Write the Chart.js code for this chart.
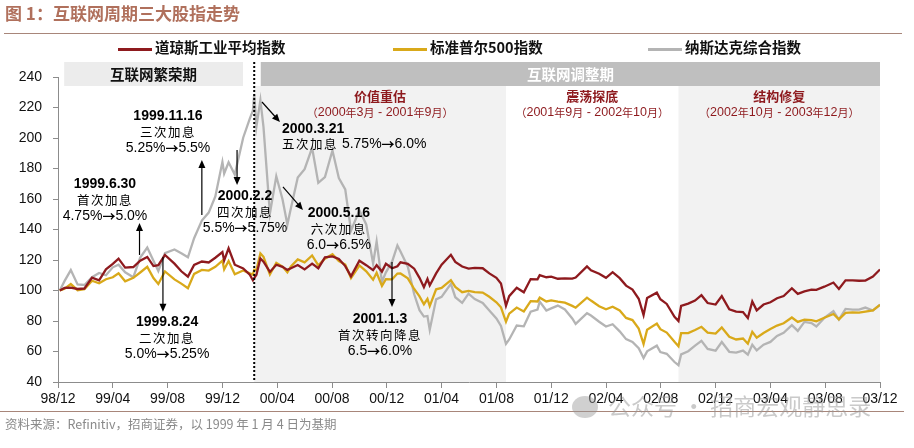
<!DOCTYPE html>
<html>
<head>
<meta charset="UTF-8" />
<title>图 1：互联网周期三大股指走势</title>
<script src="https://cdn.jsdelivr.net/npm/chart.js@4.4.1/dist/chart.umd.min.js"></script>
<style>
  body { margin: 0; background: #fff; }
  #wrap { position: relative; width: 914px; height: 448px; overflow: hidden; font-family: "Noto Sans CJK SC", sans-serif; }
  #chart { position: absolute; left: 0; top: 0; }
  .title { position: absolute; left: 5px; top: 0; line-height: 26px; font-size: 17px; font-weight: bold; color: #b0705c; }
  .rule { position: absolute; left: 4px; width: 898px; height: 1px; background: #a8867a; }
  .legend { position: absolute; top: 37px; height: 20px; line-height: 20px; font-size: 14.5px; font-weight: bold; color: #111; white-space: nowrap; }
  .legend i { display: inline-block; width: 34px; height: 3px; margin-right: 3px; vertical-align: middle; }
  .source { position: absolute; left: 5px; top: 415px; font-size: 12.5px; line-height: 18px; color: #8a8a8a; white-space: nowrap; }
  .mark { position: absolute; left: 572px; top: 390px; font-size: 23px; line-height: 30px; color: rgba(150,150,150,0.5); white-space: nowrap; }
  .mark b { display: inline-block; width: 26px; height: 22px; border-radius: 50%; background: rgba(150,150,150,0.45); vertical-align: -3px; margin-right: 10px; }
</style>
</head>
<body>
<div id="wrap">
  <canvas id="chart" width="914" height="448"></canvas>
  <div class="title">图 1：互联网周期三大股指走势</div>
  <div class="rule" style="top:33px"></div>
  <div class="legend" style="left:118px"><i style="background:#8e1a1e"></i>道琼斯工业平均指数</div>
  <div class="legend" style="left:393px"><i style="background:#d9a91a"></i>标准普尔500指数</div>
  <div class="legend" style="left:648px"><i style="background:#b4b4b4"></i>纳斯达克综合指数</div>
  <div class="rule" style="top:411px; left:0; width:904px"></div>
  <div class="source">资料来源：Refinitiv，招商证券，以 1999 年 1 月 4 日为基期</div>
  <div class="mark"><b></b>公众号 · 招商宏观静思录</div>
</div>

<script>
    // index values, 1999-01-04 = 100
    const dates = [
        '1999-01-04','1999-01-15','1999-01-29','1999-02-12','1999-02-26','1999-03-15','1999-03-31','1999-04-15','1999-04-30','1999-05-13',
        '1999-05-28','1999-06-15','1999-06-30','1999-07-16','1999-07-30','1999-08-10','1999-08-25','1999-09-15','1999-09-30','1999-10-15',
        '1999-10-29','1999-11-15','1999-11-30','1999-12-15','1999-12-31','2000-01-04','2000-01-14','2000-01-28','2000-02-15','2000-02-29',
        '2000-03-07','2000-03-10','2000-03-15','2000-03-24','2000-03-31','2000-04-14','2000-04-28','2000-05-12','2000-05-23','2000-05-31',
        '2000-06-15','2000-06-30','2000-07-17','2000-07-31','2000-08-15','2000-09-01','2000-09-15','2000-09-29','2000-10-12','2000-10-31',
        '2000-11-15','2000-11-30','2000-12-08','2000-12-20','2000-12-29','2001-01-12','2001-01-24','2001-01-31','2001-02-15','2001-02-28',
        '2001-03-12','2001-03-22','2001-03-30','2001-04-04','2001-04-18','2001-04-30','2001-05-21','2001-05-31','2001-06-15','2001-06-29',
        '2001-07-13','2001-07-31','2001-08-15','2001-08-31','2001-09-10','2001-09-21','2001-09-28','2001-10-15','2001-10-31','2001-11-15',
        '2001-11-30','2001-12-05','2001-12-20','2001-12-31','2002-01-15','2002-01-31','2002-02-15','2002-02-22','2002-03-19','2002-03-28',
        '2002-04-15','2002-04-30','2002-05-15','2002-05-31','2002-06-14','2002-06-28','2002-07-12','2002-07-23','2002-07-31','2002-08-22',
        '2002-08-30','2002-09-13','2002-09-30','2002-10-09','2002-10-15','2002-10-31','2002-11-15','2002-11-29','2002-12-13','2002-12-31',
        '2003-01-14','2003-01-31','2003-02-14','2003-02-28','2003-03-11','2003-03-21','2003-03-31','2003-04-15','2003-04-30','2003-05-15',
        '2003-05-30','2003-06-17','2003-06-30','2003-07-15','2003-07-31','2003-08-11','2003-08-29','2003-09-18','2003-09-30','2003-10-15',
        '2003-10-31','2003-11-14','2003-11-28','2003-12-15','2003-12-31'
    ];
    const dowJones = [
        100, 101.7, 101.9, 101.0, 101.3, 108.4, 106.6, 113.9, 117.5, 120.9,
        115.0, 115.4, 119.5, 122.0, 116.0, 116.6, 123.3, 117.6, 112.6, 109.1,
        116.8, 119.0, 118.4, 121.5, 125.2, 119.7, 127.6, 116.9, 114.5, 110.3,
        106.7, 108.1, 110.3, 121.0, 118.9, 112.2, 116.9, 115.5, 113.5, 114.6,
        116.7, 113.8, 117.6, 114.6, 121.7, 122.4, 120.7, 116.0, 109.3, 119.5,
        116.6, 113.4, 116.6, 112.4, 117.5, 114.6, 115.9, 118.5, 117.5, 114.3,
        108.3, 102.2, 107.6, 103.3, 111.2, 116.9, 123.4, 118.8, 115.7, 114.4,
        114.8, 114.6, 111.2, 108.3, 104.6, 90.0, 96.3, 101.8, 98.8, 107.5,
        107.3, 110.1, 108.7, 109.1, 107.7, 108.0, 107.8, 108.5, 115.8, 113.3,
        111.0, 108.3, 112.0, 108.1, 103.2, 100.6, 94.6, 83.9, 95.1, 98.6,
        94.3, 91.2, 82.7, 80.0, 89.9, 91.4, 93.4, 96.9, 91.8, 90.8,
        96.3, 87.7, 86.1, 85.9, 81.9, 92.8, 87.0, 90.8, 92.3, 94.9,
        96.4, 101.5, 97.8, 99.4, 100.5, 100.4, 102.5, 105.2, 101.0, 106.7,
        106.7, 106.4, 106.5, 109.1, 113.8
    ];
    const sp500 = [
        100, 101.2, 104.2, 100.2, 100.8, 106.4, 104.7, 107.4, 108.7, 111.3,
        106.0, 108.3, 111.8, 115.5, 108.2, 104.3, 112.5, 107.3, 104.5, 101.5,
        110.9, 113.5, 113.1, 115.5, 119.6, 113.9, 119.3, 110.7, 113.1, 111.2,
        110.4, 113.6, 113.4, 124.3, 122.1, 110.5, 118.2, 115.7, 111.9, 115.7,
        120.4, 118.5, 123.0, 116.5, 120.8, 123.8, 119.3, 117.0, 108.2, 116.4,
        112.6, 107.1, 111.6, 103.0, 107.5, 107.3, 111.1, 111.2, 108.0, 101.0,
        96.1, 91.0, 94.5, 89.8, 100.8, 101.7, 106.8, 102.3, 98.9, 99.7,
        98.9, 98.6, 95.9, 92.3, 89.0, 79.5, 84.8, 88.8, 86.3, 93.0,
        92.8, 95.3, 92.8, 93.5, 92.7, 92.0, 89.9, 88.7, 95.3, 93.4,
        89.7, 87.7, 89.4, 86.9, 82.0, 80.6, 75.0, 64.9, 74.3, 78.3,
        74.6, 72.4, 66.4, 63.5, 72.0, 72.1, 74.1, 76.2, 72.4, 71.7,
        75.8, 69.7, 67.9, 68.5, 65.1, 72.9, 69.1, 72.1, 74.7, 77.0,
        78.5, 82.3, 79.4, 80.9, 80.6, 79.8, 82.1, 84.6, 81.1, 85.3,
        85.6, 85.5, 86.2, 87.0, 90.6
    ];
    const nasdaq = [
        100, 106.3, 113.4, 104.0, 103.6, 108.7, 111.5, 110.0, 115.2, 116.9,
        111.9, 108.7, 121.6, 128.2, 119.5, 112.8, 124.5, 126.9, 124.4, 121.8,
        134.3, 145.9, 151.1, 161.7, 184.3, 176.7, 184.1, 176.0, 200.2, 212.7,
        217.9, 228.6, 207.6, 224.8, 207.1, 150.4, 174.9, 159.8, 143.3, 154.0,
        174.1, 179.6, 193.6, 170.6, 174.4, 191.8, 173.7, 166.3, 139.2, 152.6,
        143.3, 117.7, 132.1, 105.7, 111.9, 118.9, 129.5, 125.6, 115.6, 97.5,
        87.1, 82.9, 83.3, 74.2, 94.2, 95.8, 104.4, 95.6, 91.9, 97.9,
        94.4, 91.8, 86.9, 81.7, 76.8, 65.0, 67.9, 77.0, 76.5, 86.1,
        87.5, 92.7, 86.9, 88.3, 90.1, 87.6, 81.7, 78.1, 85.1, 83.6,
        79.5, 76.4, 77.9, 73.2, 68.1, 66.3, 62.2, 55.7, 60.1, 63.8,
        59.6, 58.5, 53.1, 51.0, 58.1, 60.2, 63.9, 67.0, 61.7, 60.5,
        66.2, 59.8, 59.3, 60.6, 57.9, 64.4, 60.7, 64.5, 66.3, 70.2,
        72.3, 77.3, 73.5, 79.4, 78.6, 76.4, 82.0, 86.5, 80.9, 87.9,
        87.5, 87.4, 88.8, 86.9, 90.7
    ];
    const tickLabels = ['98/12','99/04','99/08','99/12','00/04','00/08','00/12','01/04','01/08','01/12','02/04','02/08','02/12','03/04','03/08','03/12'];

    // months after the end of 1998
    function toMonth(d) {
        const [y, m, day] = d.split('-').map(Number);
        const dim = new Date(y, m, 0).getDate();
        return (y - 1999) * 12 + (m - 1) + day / dim;
    }
    const series = values => values.map((v, i) => ({ x: toMonth(dates[i]), y: v }));

    const turn = toMonth('2000-03-10');
    const phases = [
        { name: '互联网繁荣期', start: 0.45, end: 13.5, fill: '#ececec', color: '#111' },
        { name: '互联网调整期', start: 14.8, end: 60, fill: '#bfbfbf', color: '#fff' }
    ];
    const stages = [
        { name: '价值重估', range: '（2000年3月 - 2001年9月）', start: turn, end: toMonth('2001-09-21'), shade: true },
        { name: '震荡探底', range: '（2001年9月 - 2002年10月）', start: toMonth('2001-09-21'), end: toMonth('2002-10-09'), shade: false },
        { name: '结构修复', range: '（2002年10月 - 2003年12月）', start: toMonth('2002-10-09'), end: 60, shade: true }
    ];
    const notes = [
        { x: 3.43, y: 169.8, lines: ['1999.6.30', '首次加息', '4.75%→5.0%'], arrow: [5.95, 123.3, 5.95, 144.3] },
        { x: 7.96, y: 79.3, lines: ['1999.8.24', '二次加息', '5.0%→5.25%'], arrow: [7.66, 122, 7.66, 86] },
        { x: 8.03, y: 214.4, lines: ['1999.11.16', '三次加息', '5.25%→5.5%'], arrow: [10.5, 149.5, 10.5, 185.6] },
        { x: 13.65, y: 162, lines: ['2000.2.2', '四次加息', '5.5%→5.75%'], arrow: [13.07, 192.1, 13.07, 169.2] },
        { x: 16.35, y: 205.7, align: 'left', gap: 15, lines: ['2000.3.21', '五次加息 5.75%→6.0%'], arrow: [14.89, 223.6, 16.2, 210.5] },
        { x: 20.5, y: 150.6, lines: ['2000.5.16', '六次加息', '6.0→6.5%'], arrow: [16.42, 167.9, 17.88, 152.8] },
        { x: 23.5, y: 81.3, lines: ['2001.1.3', '首次转向降息', '6.5→6.0%'], arrow: [24.38, 118.7, 24.38, 89.2] }
    ];

    const LATIN = '"Liberation Sans", Arial, sans-serif';
    const CJK = '"Noto Sans CJK SC", sans-serif';

    // draws a line of mixed chinese / latin text
    function mixedText(ctx, text, x, y, size, bold, align, spacing) {
        const runs = text.match(/[\u3000-\u9fff\uff00-\uffef]+|→|[^\u3000-\u9fff\uff00-\uffef→]+/g);
        const parts = runs.map(t => {
            const cjk = /[\u3000-\u9fff\uff00-\uffef]/.test(t);
            let font = (bold ? 'bold ' : '') + size + 'px ' + LATIN;
            if (cjk) font = (bold ? 'bold ' : '') + (size - 1.5) + 'px ' + CJK;
            if (t === '→') font = 'bold ' + (size - 1) + 'px ' + CJK;
            ctx.font = font;
            ctx.letterSpacing = cjk ? spacing + 'px' : '0px';
            return { t, font, ls: ctx.letterSpacing, w: ctx.measureText(t).width };
        });
        const total = parts.reduce((s, p) => s + p.w, 0);
        let cx = align === 'left' ? x : x - total / 2;
        ctx.textAlign = 'left';
        ctx.textBaseline = 'middle';
        parts.forEach(p => {
            ctx.font = p.font;
            ctx.letterSpacing = p.ls;
            ctx.fillText(p.t, cx, y);
            cx += p.w;
        });
        ctx.letterSpacing = '0px';
    }

    function arrow(ctx, x1, y1, x2, y2) {
        const a = Math.atan2(y2 - y1, x2 - x1);
        ctx.strokeStyle = '#000';
        ctx.fillStyle = '#000';
        ctx.lineWidth = 1.2;
        ctx.beginPath();
        ctx.moveTo(x1, y1);
        ctx.lineTo(x2 - 5 * Math.cos(a), y2 - 5 * Math.sin(a));
        ctx.stroke();
        ctx.beginPath();
        ctx.moveTo(x2, y2);
        ctx.lineTo(x2 - 8 * Math.cos(a) + 3.5 * Math.sin(a), y2 - 8 * Math.sin(a) - 3.5 * Math.cos(a));
        ctx.lineTo(x2 - 8 * Math.cos(a) - 3.5 * Math.sin(a), y2 - 8 * Math.sin(a) + 3.5 * Math.cos(a));
        ctx.closePath();
        ctx.fill();
    }

    const backdrop = {
        id: 'backdrop',
        beforeDatasetsDraw(chart) {
            const { ctx, chartArea: area, scales: { x } } = chart;
            ctx.save();
            stages.filter(s => s.shade).forEach(s => {
                ctx.fillStyle = '#f2f2f2';
                const l = x.getPixelForValue(s.start), r = x.getPixelForValue(s.end);
                ctx.fillRect(l, area.top + 9, r - l, area.bottom - area.top - 9);
            });
            phases.forEach(p => {
                const l = x.getPixelForValue(p.start), r = x.getPixelForValue(p.end);
                ctx.fillStyle = p.fill;
                ctx.fillRect(l, area.top - 15, r - l, 24);
                ctx.fillStyle = p.color;
                ctx.font = 'bold 14.5px ' + CJK;
                ctx.textAlign = 'center';
                ctx.textBaseline = 'middle';
                ctx.fillText(p.name, (l + r) / 2, area.top - 3);
            });
            stages.forEach(s => {
                const c = (x.getPixelForValue(s.start) + x.getPixelForValue(s.end)) / 2;
                ctx.fillStyle = '#8e1a1e';
                ctx.font = 'bold 13px ' + CJK;
                ctx.textAlign = 'center';
                ctx.textBaseline = 'middle';
                ctx.fillText(s.name, c, area.top + 19);
                mixedText(ctx, s.range, c, area.top + 36, 12.5, false, 'center', 0);
            });
            ctx.restore();
        },
        afterDatasetsDraw(chart) {
            const { ctx, chartArea: area, scales: { x, y } } = chart;
            ctx.save();
            const dx = x.getPixelForValue(turn);
            ctx.strokeStyle = '#000';
            ctx.lineWidth = 2;
            ctx.setLineDash([2, 2]);
            ctx.beginPath();
            ctx.moveTo(dx, area.top - 15);
            ctx.lineTo(dx, area.bottom);
            ctx.stroke();
            ctx.setLineDash([]);
            notes.forEach(n => {
                const px = x.getPixelForValue(n.x), py = y.getPixelForValue(n.y);
                ctx.fillStyle = '#000';
                n.lines.forEach((t, i) => {
                    mixedText(ctx, t, px, py + i * (n.gap || 16), 14, i === 0, n.align || 'center', 1.5);
                });
                const [a1, b1, a2, b2] = n.arrow;
                arrow(ctx, x.getPixelForValue(a1), y.getPixelForValue(b1), x.getPixelForValue(a2), y.getPixelForValue(b2));
            });
            ctx.restore();
        }
    };

    const line = (label, values, color) => ({
        label: label,
        data: series(values),
        borderColor: color,
        borderWidth: 2.3,
        pointRadius: 0,
        tension: 0,
        fill: false
    });

    new Chart('chart', {
        type: 'line',
        data: {
            datasets: [
                line('道琼斯工业平均指数', dowJones, '#8e1a1e'),
                line('标准普尔500指数', sp500, '#d9a91a'),
                line('纳斯达克综合指数', nasdaq, '#b4b4b4')
            ]
        },
        plugins: [backdrop],
        options: {
            responsive: false,
            animation: false,
            layout: { padding: { top: 77, right: 34, left: 0, bottom: 0 } },
            plugins: {
                legend: { display: false },
                tooltip: { enabled: false }
            },
            scales: {
                x: {
                    type: 'linear',
                    min: 0,
                    max: 60,
                    afterFit: s => { s.height = 66; },
                    ticks: {
                        stepSize: 4,
                        autoSkip: false,
                        maxRotation: 0,
                        padding: 3,
                        color: '#111',
                        font: { family: LATIN, size: 14 },
                        callback: v => tickLabels[v / 4]
                    },
                    grid: { drawOnChartArea: false, tickLength: 6, color: '#8c8c8c' },
                    border: { color: '#8c8c8c' }
                },
                y: {
                    min: 40,
                    max: 240,
                    afterFit: s => { s.width = 58; },
                    ticks: {
                        stepSize: 20,
                        padding: 11,
                        color: '#111',
                        font: { family: LATIN, size: 14 }
                    },
                    grid: { drawOnChartArea: false, tickLength: 5, color: '#8c8c8c' },
                    border: { color: '#8c8c8c' }
                }
            }
        }
    });
</script>
</body>
</html>
